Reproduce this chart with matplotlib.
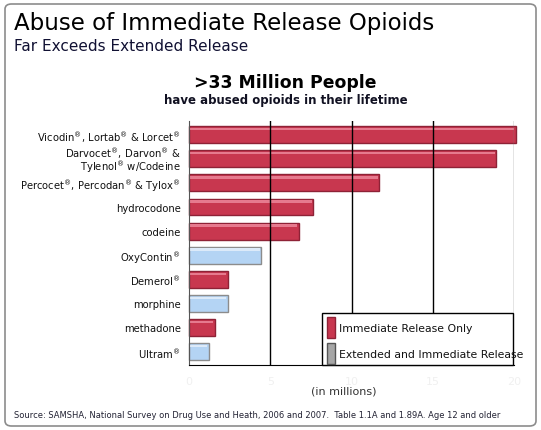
import numpy as np
import matplotlib.pyplot as plt
from matplotlib.patches import Rectangle, FancyBboxPatch

R = r'$^{®}$'  # small raised registered mark

# data (millions of people, lifetime abuse)
drugs = ['Vicodin' + R + ', Lortab' + R + ' & Lorcet' + R,
         'Darvocet' + R + ', Darvon' + R + ' &\nTylenol' + R + ' w/Codeine',
         'Percocet' + R + ', Percodan' + R + ' & Tylox' + R,
         'hydrocodone',
         'codeine',
         'OxyContin' + R,
         'Demerol' + R,
         'morphine',
         'methadone',
         'Ultram' + R]
users = [20.1, 18.9, 11.7, 7.65, 6.75, 4.45, 2.4, 2.4, 1.6, 1.2]
# True = immediate release only, False = extended and immediate
immediate = [True, True, True, True, True, False, True, False, True, False]
xticks = [0, 5, 10, 15, 20]

W, H = 541, 431
fig = plt.figure(figsize=(W / 100, H / 100), dpi=100)
fig.patch.set_facecolor('white')

def fx(px):
    return px / W

def fy(py):
    return 1 - py / H

# outer rounded frame
fig.add_artist(FancyBboxPatch((fx(5), fy(427)), fx(531), fy(5) - fy(427),
                              boxstyle='round,pad=0,rounding_size=0.012',
                              transform=fig.transFigure, fc='none', ec='#8c8c8c', lw=1.2))

fig.text(fx(14), fy(30), 'Abuse of Immediate Release Opioids', fontsize=16.5,
         va='baseline', ha='left')
fig.text(fx(14), fy(51), 'Far Exceeds Extended Release', fontsize=11,
         color='#111133', va='baseline', ha='left')
fig.text(fx(285), fy(88), '>33 Million People', fontsize=12.4, fontweight='bold',
         va='baseline', ha='center')
fig.text(fx(286), fy(104), 'have abused opioids in their lifetime', fontsize=8.5,
         fontweight='bold', color='#111122', va='baseline', ha='center')

ax = fig.add_axes([fx(189), fy(366), fx(514) - fx(189), fy(122) - fy(366)])
ypos = np.arange(len(drugs))

red_face, red_hi, red_edge = '#c8374f', '#e67a8e', '#8e2236'
blue_face, blue_hi, blue_edge = '#b4d4f4', '#dceaf9', '#8c8c8c'

bh = 0.7
for y, val, imm in zip(ypos, users, immediate):
    face, hi, edge = (red_face, red_hi, red_edge) if imm else (blue_face, blue_hi, blue_edge)
    ax.barh(y, val, height=bh, color=face, edgecolor=edge, linewidth=1.0,
            zorder=2, clip_on=False)
    # highlight stripe near top of the bar
    ax.barh(y - bh / 2 + 0.12, val - 0.15, height=0.1, left=0.05, color=hi,
            linewidth=0, zorder=2.5, clip_on=False)

for x in xticks[1:-1]:
    ax.axvline(x, color='black', lw=1.0, zorder=3)
ax.axvline(xticks[-1], color='#777777', lw=1.0, zorder=3)

ax.set_xlim(0, 20)
ax.set_ylim(len(drugs) - 1 + 0.56, -0.57)
ax.set_xticks(xticks)
ax.set_xticklabels([str(t) for t in xticks], color='#f0f0f0', fontsize=8)
ax.tick_params(axis='x', length=0, pad=8)
ax.set_yticks(ypos)
ax.set_yticklabels(drugs, fontsize=7.2, color='#111111', linespacing=0.8)
ax.tick_params(axis='y', length=0, pad=6)

ax.spines['top'].set_visible(False)
ax.spines['right'].set_visible(False)
ax.spines['left'].set_color('#555555')
ax.spines['bottom'].set_color('black')

fig.text(fx(344), fy(392), '(in millions)', fontsize=8, color='#333333',
         va='center', ha='center')

# legend drawn by hand so the second label runs past the box like the original
fig.add_artist(Rectangle((fx(322), fy(366)), fx(513) - fx(322), fy(314) - fy(366),
                         transform=fig.transFigure, fc='white', ec='black', lw=1.0, zorder=5))
for top, face, edge, label in [(318, red_face, red_edge, 'Immediate Release Only'),
                               (344, '#a6a6a6', '#555555', 'Extended and Immediate Release')]:
    fig.add_artist(Rectangle((fx(327), fy(top + 21)), fx(8), fy(top) - fy(top + 21),
                             transform=fig.transFigure, fc=face, ec=edge, lw=1.0, zorder=6))
    fig.text(fx(339), fy(top + 11), label, fontsize=7.8, color='#111111',
             va='center', ha='left', zorder=7)

fig.text(fx(14), fy(416), 'Source: SAMSHA, National Survey on Drug Use and Heath, 2006 and 2007.  '
         'Table 1.1A and 1.89A. Age 12 and older', fontsize=6.05, color='#222233',
         va='center', ha='left')

fig.savefig('out.png', dpi=100)
